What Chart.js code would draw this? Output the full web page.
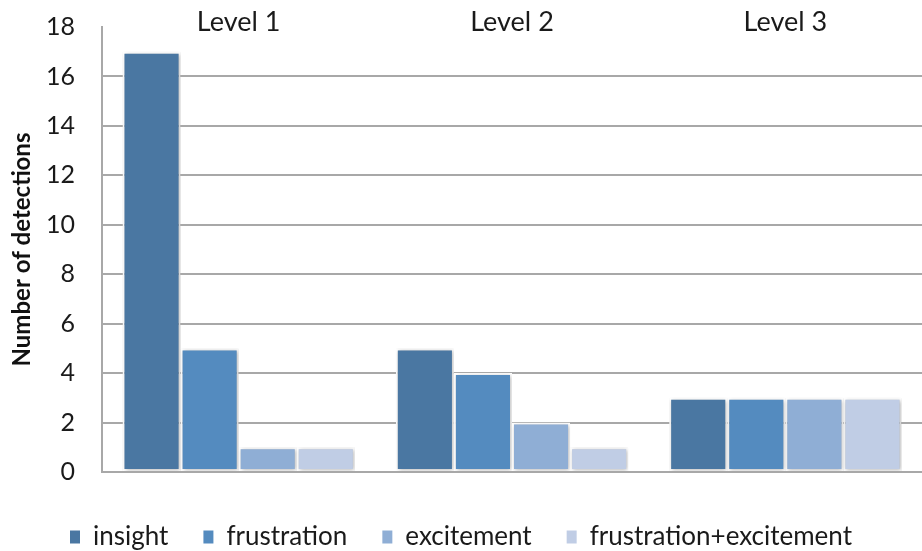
<!DOCTYPE html>
<html>
<head>
<meta charset="utf-8">
<script src="https://cdn.jsdelivr.net/npm/chart.js@4/dist/chart.umd.min.js"></script>
<style>
  html, body { margin: 0; padding: 0; background: #fff; }
  #wrap { width: 922px; height: 551px; }
</style>
</head>
<body>
<div id="wrap"><canvas id="c" width="922" height="551"></canvas></div>
<script>
const levels = ['Level 1', 'Level 2', 'Level 3'];
const insight = [17, 5, 3];
const frustration = [5, 4, 3];
const excitement = [1, 2, 3];
const frustrationExcitement = [1, 1, 3];
const yTicks = [0, 2, 4, 6, 8, 10, 12, 14, 16, 18];

const FONT = 'Lato, "Open Sans", "Liberation Sans", sans-serif';

// category names sit above the plot, centred on each group
const topLabels = {
  id: 'topLabels',
  afterDraw(chart) {
    const { ctx, scales: { x } } = chart;
    ctx.save();
    ctx.font = '27px ' + FONT;
    ctx.fillStyle = '#1a1a1a';
    ctx.textAlign = 'center';
    ctx.textBaseline = 'middle';
    levels.forEach((lab, i) => ctx.fillText(lab, x.getPixelForValue(i), 22));
    ctx.restore();
  }
};

// soft drop shadow under the bars
const barShadow = {
  id: 'barShadow',
  beforeDatasetsDraw(chart) {
    const ctx = chart.ctx;
    ctx.save();
    ctx.shadowColor = 'rgba(0,0,0,0.28)';
    ctx.shadowBlur = 4;
    ctx.shadowOffsetX = 1;
    ctx.shadowOffsetY = 1;
  },
  afterDatasetsDraw(chart) {
    chart.ctx.restore();
  }
};

const mk = (label, data, color) => ({
  label, data,
  backgroundColor: color,
  borderColor: '#ffffff',
  borderWidth: 2,
  borderSkipped: false,
  barPercentage: 1,
  categoryPercentage: 0.85
});

new Chart(document.getElementById('c'), {
  type: 'bar',
  data: {
    labels: levels,
    datasets: [
      mk('insight', insight, '#4a77a2'),
      mk('frustration', frustration, '#548bbf'),
      mk('excitement', excitement, '#8faed5'),
      mk('frustration+excitement', frustrationExcitement, '#c0cde5')
    ]
  },
  options: {
    responsive: false,
    animation: false,
    layout: { padding: { top: 27, right: 0, left: 0, bottom: -9 } },
    plugins: {
      tooltip: { enabled: false },
      legend: {
        position: 'bottom',
        labels: {
          font: { family: FONT, size: 26 },
          color: '#1a1a1a',
          boxWidth: 10,
          boxHeight: 13,
          padding: 35,
          generateLabels(chart) {
            return Chart.defaults.plugins.legend.labels.generateLabels(chart)
              .map(l => Object.assign(l, { lineWidth: 0, strokeStyle: l.fillStyle }));
          }
        }
      }
    },
    scales: {
      x: {
        display: true,
        offset: true,
        grid: { display: false },
        border: { display: false },
        ticks: { display: false },
        afterFit(scale) { scale.height = 17; }
      },
      y: {
        min: 0,
        max: 18,
        afterBuildTicks(scale) { scale.ticks = yTicks.map(v => ({ value: v })); },
        afterFit(scale) {
          scale.width = 102;
          scale.paddingTop = 0;
          scale.paddingBottom = 0;
        },
        border: { display: true, color: '#a8a8a8', width: 2 },
        grid: {
          color: ctx => (ctx.tick && ctx.tick.value === 18) ? 'rgba(0,0,0,0)' : '#a8a8a8',
          lineWidth: 2,
          drawTicks: false
        },
        ticks: {
          font: { family: FONT, size: 25 },
          color: '#1a1a1a',
          padding: 27
        },
        title: {
          display: true,
          text: 'Number of detections',
          font: { family: FONT, size: 24, weight: 'bold' },
          color: '#111',
          padding: { top: 8, bottom: 0 }
        }
      }
    }
  },
  plugins: [barShadow, topLabels]
});
</script>
</body>
</html>
